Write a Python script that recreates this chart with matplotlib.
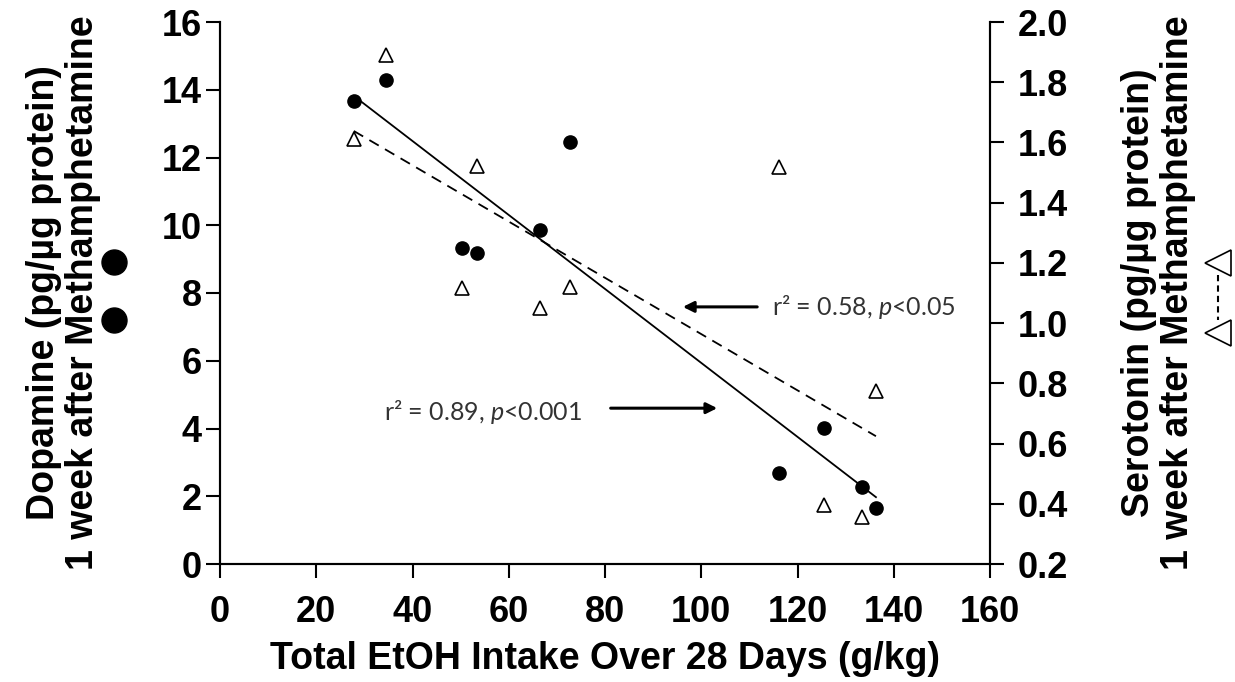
import numpy as np
import matplotlib
matplotlib.use("Agg")
import matplotlib.pyplot as plt
from matplotlib.lines import Line2D

# total EtOH intake (g/kg) per animal
etoh = [27.8, 34.4, 50.3, 53.3, 66.5, 72.7, 116.2, 125.5, 133.4, 136.3]
# dopamine (pg/ug protein)
dopamine = [13.67, 14.29, 9.33, 9.18, 9.86, 12.46, 2.69, 4.01, 2.27, 1.65]
# serotonin (pg/ug protein)
serotonin = [1.611, 1.890, 1.116, 1.522, 1.050, 1.120, 1.518, 0.395, 0.355, 0.774]

x_ticks = [0, 20, 40, 60, 80, 100, 120, 140, 160]
da_ticks = [0, 2, 4, 6, 8, 10, 12, 14, 16]
ht_ticks = [0.2, 0.4, 0.6, 0.8, 1.0, 1.2, 1.4, 1.6, 1.8, 2.0]

plt.rcParams['font.family'] = ['Liberation Sans', 'DejaVu Sans']
plt.rcParams['mathtext.fontset'] = 'custom'
plt.rcParams['mathtext.rm'] = 'Lato'
plt.rcParams['mathtext.it'] = 'Lato:italic'

fig = plt.figure(figsize=(12.35, 6.82), dpi=100)
ax = fig.add_axes([220/1235, 1-564/682, 770/1235, 542/682])
ax2 = ax.twinx()

x = np.array(etoh)
xs = np.array([x.min(), x.max()])

ax.plot(x, dopamine, 'o', color='black', markersize=9.5)
m, b = np.polyfit(x, dopamine, 1)
ax.plot(xs, m*xs + b, color='black', lw=1.3)

ax2.plot(x, serotonin, '^', markerfacecolor='white', markeredgecolor='black',
         markersize=10, markeredgewidth=1.2)
m2, b2 = np.polyfit(x, serotonin, 1)
ax2.plot(xs, m2*xs + b2, color='black', lw=1.3, linestyle=(0, (6, 4)))

ax.set_xlim(0, 160)
ax.set_ylim(0, 16)
ax2.set_ylim(0.2, 2.0)
ax.set_xticks(x_ticks)
ax.set_yticks(da_ticks)
ax2.set_yticks(ht_ticks)
ax2.set_yticklabels([f"{t:.1f}" for t in ht_ticks])

for a in (ax, ax2):
    a.spines['top'].set_visible(False)
    for s in a.spines.values():
        s.set_linewidth(1.5)
    a.tick_params(direction='out', length=10, width=1.5, labelsize=26)
    for lab in a.get_xticklabels() + a.get_yticklabels():
        lab.set_fontweight('bold')
ax.tick_params(axis='x', pad=12)
ax.tick_params(axis='y', pad=3)
ax2.tick_params(axis='y', pad=10)

ax.set_xlabel("Total EtOH Intake Over 28 Days (g/kg)", fontsize=27,
              fontweight='bold', labelpad=8)
ax.set_ylabel("Dopamine (pg/µg protein)\n1 week after Methamphetamine",
              fontsize=27, fontweight='bold', labelpad=44, linespacing=1.1)
ax2.set_ylabel("Serotonin (pg/µg protein)\n1 week after Methamphetamine",
               fontsize=27, fontweight='bold', rotation=90, labelpad=38,
               linespacing=1.1)

# symbol keys beside the axis titles
fig.add_artist(Line2D([114/1235, 114/1235], [1-262/682, 1-320/682], linestyle='none',
                      marker='o', markersize=18, color='black'))
fig.add_artist(Line2D([1218/1235, 1218/1235], [1-275/682, 1-320/682], color='black',
                      lw=1.5, linestyle=(0, (3, 2))))
fig.add_artist(Line2D([1218/1235, 1218/1235], [1-263/682, 1-333/682], linestyle='none',
                      marker='<', markersize=19, markerfacecolor='white',
                      markeredgecolor='black', markeredgewidth=1.2))

ax.annotate("", xy=(95.6, 7.59), xytext=(112.2, 7.59),
            arrowprops=dict(arrowstyle='-|>', lw=2.2, color='black', mutation_scale=16))
ax.text(114.8, 7.59, r"r² = 0.58, $\mathit{p}$<0.05", fontsize=18, family='Lato',
        va='center', ha='left', color='#333333')
ax.annotate("", xy=(103.9, 4.6), xytext=(80.6, 4.6),
            arrowprops=dict(arrowstyle='-|>', lw=2.2, color='black', mutation_scale=16))
ax.text(34.1, 4.49, r"r² = 0.89, $\mathit{p}$<0.001", fontsize=18, family='Lato',
        va='center', ha='left', color='#333333')

fig.savefig("out.png", dpi=100)
